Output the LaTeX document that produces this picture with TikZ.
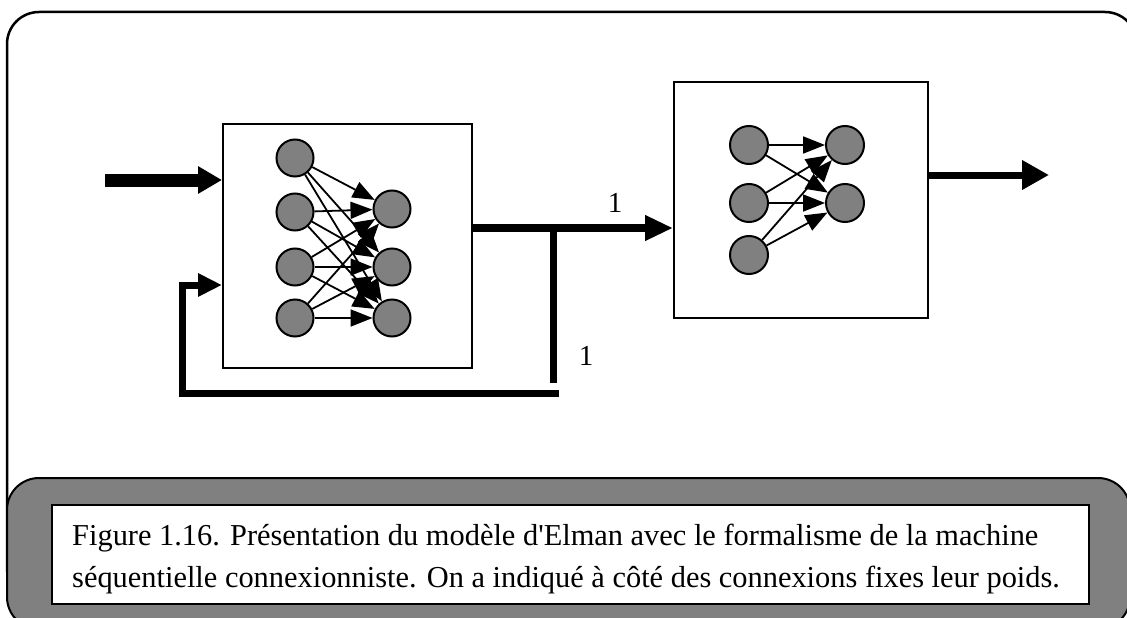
\documentclass[tikz,border=0pt]{standalone}
\usepackage{fontspec}
\setmainfont{Liberation Serif}
\newfontfamily\capfont{Liberation Serif}
\usetikzlibrary{arrows.meta}
\definecolor{nodegray}{RGB}{128,128,128}
\begin{document}
\begin{tikzpicture}[x=1pt,y=-1pt,
  neuron/.style={circle, draw=black, line width=2pt, fill=nodegray, minimum size=37pt, inner sep=0pt},
  block/.style={draw=black, line width=2pt, fill=white, inner sep=0pt},
  syn/.style={line width=1.8pt, -{Triangle[length=22pt,width=17pt]}},
  captext/.style={anchor=base west, inner sep=0pt, font=\capfont\fontsize{30.4}{36}\selectfont},
  weight/.style={anchor=base, inner sep=0pt, font=\capfont\fontsize{29}{34}\selectfont}
]
\useasboundingbox (0,0) rectangle (1127,618);
% outer frame
\draw[line width=2.5pt, rounded corners=32pt] (7,12) rectangle (1137,600);
% caption area
\draw[line width=2pt, fill=nodegray, rounded corners=32pt] (7,478) rectangle (1130,629);
\draw[line width=2.5pt, fill=white] (52,505) rectangle (1089,604);
\node[captext] (cap1) at (72,545) {Figure 1.16. Présentation du modèle d'Elman avec le formalisme de la machine};
\node[captext] (cap2) at (72,587) {séquentielle connexionniste. On a indiqué à côté des connexions fixes leur poids.};

% blocks
\node[block, minimum width=249pt, minimum height=244pt] (B1) at (347.5,246) {};
\node[block, minimum width=254pt, minimum height=236pt] (B2) at (801,200) {};

% left network
\node[neuron] (L1) at (295,158) {};
\node[neuron] (L2) at (295,212) {};
\node[neuron] (L3) at (295,267) {};
\node[neuron] (L4) at (295,318) {};
\node[neuron] (R1) at (392,209) {};
\node[neuron] (R2) at (392,267) {};
\node[neuron] (R3) at (392,318) {};
\foreach \a in {L1,L2,L3,L4}
  \foreach \b in {R1,R2,R3}
    \draw[syn] (\a) -- (\b);

% right network
\node[neuron, minimum size=38pt] (A1) at (749,145) {};
\node[neuron, minimum size=38pt] (A2) at (749,203) {};
\node[neuron, minimum size=38pt] (A3) at (749,255) {};
\node[neuron, minimum size=38pt] (C1) at (845,145) {};
\node[neuron, minimum size=38pt] (C2) at (845,203) {};
\foreach \a in {A1,A2,A3}
  \foreach \b in {C1,C2}
    \draw[syn] (\a) -- (\b);

% connectors
\coordinate (in) at (105,180);
\draw[line width=13pt, -{Triangle[length=24pt,width=26pt]}] (in) -- (B1.west |- in);

\coordinate (J) at (553,228);
\draw[line width=8pt, -{Triangle[length=28pt,width=24pt]}] (B1.east |- J) -- (B2.west |- J);
\coordinate (Jend) at (553,383);
\draw[line width=7pt] (J) -- (Jend);

\coordinate (fbA) at (559,393);
\coordinate (fbB) at (182,393);
\coordinate (fbC) at (182,285);
\draw[line width=7pt, line join=miter, -{Triangle[length=24pt,width=22pt]}] (fbA) -- (fbB) -- (fbC) -- (B1.west |- fbC);

\coordinate (out) at (1049,175);
\draw[line width=7pt, -{Triangle[length=27pt,width=28pt]}] (B2.east |- out) -- (out);

\node[weight] (w1) at (615,212) {1};
\node[weight] (w2) at (586,365) {1};
\end{tikzpicture}
\end{document}
